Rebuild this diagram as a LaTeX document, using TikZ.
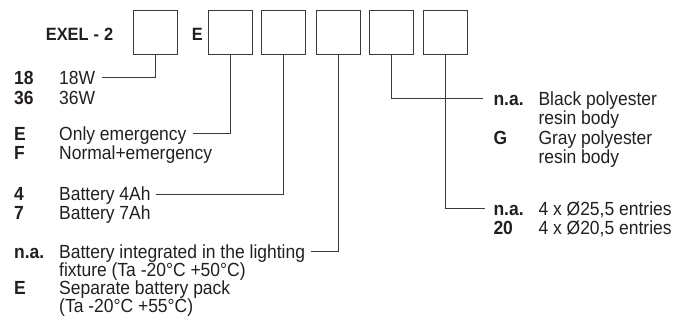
\documentclass[tikz,border=0pt]{standalone}
\usepackage{fontspec}
\setmainfont{Liberation Sans}[FakeStretch=0.92]
\definecolor{ink}{HTML}{231F20}
\definecolor{linec}{HTML}{3A3A3A}
\newcommand\fsz{\fontsize{19}{21}\selectfont}
\newcommand\fst{\fontsize{17.8}{20}\selectfont}
\tikzset{
  partbox/.style={draw=linec, line width=0.9pt, minimum width=44pt, minimum height=44pt, inner sep=0pt},
  codetxt/.style={anchor=west, inner sep=0pt, text=ink, font=\fsz\bfseries, text height=13.6pt, text depth=0pt},
  desctxt/.style={anchor=west, inner sep=0pt, text=ink, font=\fsz, text height=13.6pt, text depth=0pt},
  titletxt/.style={anchor=west, inner sep=0pt, text=ink, font=\fst\bfseries, text height=12.7pt, text depth=0pt},
  conn/.style={draw=linec, line width=0.9pt}
}
\begin{document}
\begin{tikzpicture}[x=1pt,y=-1pt]
\useasboundingbox (0,0) rectangle (689,324);
% title
\node[titletxt] (title) at (45.7,34) {EXEL\hspace{5pt}-\hspace{5pt}2};
\node[titletxt] (tE) at (191.7,34) {E};
% boxes
\node[partbox] (b1) at (155.6,32.2) {};
\node[partbox] (b2) at (230.6,32.2) {};
\node[partbox] (b3) at (283.4,32.2) {};
\node[partbox] (b4) at (338.0,32.2) {};
\node[partbox] (b5) at (391.5,32.2) {};
\node[partbox] (b6) at (445.6,32.2) {};
% left column
\node[codetxt] (c18) at (14,77.7) {18};
\node[desctxt] (d18) at (59,77.7) {18W};
\node[codetxt] (c36) at (14,98) {36};
\node[desctxt] (d36) at (59,98) {36W};

\node[codetxt] (cE) at (14,133.3) {E};
\node[desctxt] (dE) at (59,133.3) {Only emergency};
\node[codetxt] (cF) at (14,152.8) {F};
\node[desctxt] (dF) at (59,152.8) {Normal+emergency};

\node[codetxt] (c4) at (14,194) {4};
\node[desctxt] (d4) at (59,194) {Battery 4Ah};
\node[codetxt] (c7) at (14,213) {7};
\node[desctxt] (d7) at (59,213) {Battery 7Ah};

\node[codetxt] (cna) at (14,251.7) {n.a.};
\node[desctxt] (dna) at (59,251.7) {Battery integrated in the lighting};
\node[desctxt] (dna2) at (59,269.7) {fixture (Ta -20°C +50°C)};
\node[codetxt] (cE2) at (14,287.7) {E};
\node[desctxt] (dE2) at (59,287.7) {Separate battery pack};
\node[desctxt] (dE3) at (59,305.7) {(Ta -20°C +55°C)};

% right column
\node[codetxt] (rna1) at (493.3,98.5) {n.a.};
\node[desctxt] (rd1) at (538.3,98.5) {Black polyester};
\node[desctxt] (rd1b) at (538.3,118) {resin body};
\node[codetxt] (rG) at (493.3,137.5) {G};
\node[desctxt] (rdG) at (538.3,137.5) {Gray polyester};
\node[desctxt] (rdGb) at (538.3,157) {resin body};

\node[codetxt] (rna2) at (493.3,208.5) {n.a.};
\node[desctxt] (rd2) at (538.3,208.5) {4 x Ø25,5 entries};
\node[codetxt] (r20) at (493.3,228) {20};
\node[desctxt] (rd20) at (538.3,228) {4 x Ø20,5 entries};

% connectors
\draw[conn] (b1.south) |- ([xshift=7pt]d18.east);
\draw[conn] (b2.south) |- ([xshift=6.5pt]dE.east);
\draw[conn] (b3.south) |- ([xshift=5pt]d4.east);
\draw[conn] (b4.south) |- ([xshift=6pt]dna.east);
\draw[conn] (b5.south) |- ([xshift=-10pt]rna1.west);
\draw[conn] (b6.south) |- ([xshift=-8.5pt]rna2.west);
\end{tikzpicture}
\end{document}
